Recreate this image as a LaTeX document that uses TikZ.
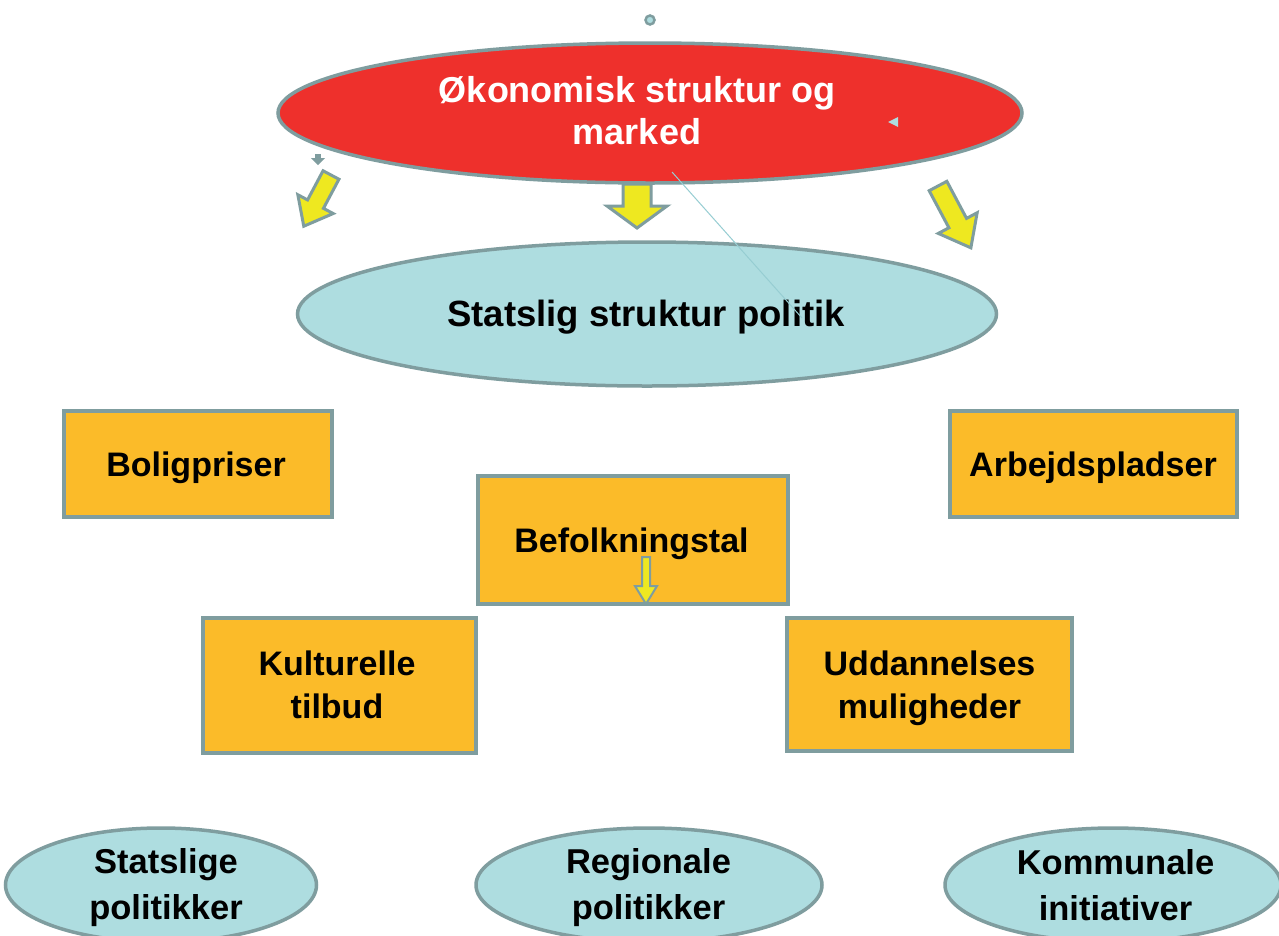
\documentclass[tikz,border=0pt]{standalone}
\usepackage{fontspec}
\setmainfont{Liberation Sans}
\usetikzlibrary{shapes.geometric}
\definecolor{redfill}{RGB}{238,48,44}
\definecolor{bluefill}{RGB}{174,221,224}
\definecolor{orangefill}{RGB}{251,187,41}
\definecolor{grayline}{RGB}{127,157,159}
\definecolor{yellowfill}{RGB}{238,232,32}
\definecolor{thinblue}{RGB}{150,205,210}
\tikzset{
  ellbox/.style={ellipse, draw=grayline, line width=3.5pt, inner sep=0pt},
  rectbox/.style={rectangle, draw=grayline, fill=orangefill, line width=4pt, inner sep=0pt},
  boxtext/.style={inner sep=0pt, align=center, font=\bfseries\fontsize{34}{43}\selectfont},
  elltext/.style={inner sep=0pt, align=center, font=\bfseries\fontsize{34.5}{46}\selectfont},
  arrowstyle/.style={draw=grayline, fill=yellowfill, line width=3pt, line join=miter},
  pics/blockarrow/.style n args={4}{code={
    \draw[arrowstyle] (-#2,0) -- (#2,0) -- (#2,#1-#4) -- (#3,#1-#4) -- (0,#1)
      -- (-#3,#1-#4) -- (-#2,#1-#4) -- cycle;}},
}
\begin{document}
\begin{tikzpicture}[x=1pt,y=-1pt]
\useasboundingbox (0,0) rectangle (1279,935);
\fill[white] (0,0) rectangle (1279,935);

% top small circle
\draw[grayline, line width=2.5pt, fill=bluefill] (650,20) circle (4.5);

% ellipses
\node[ellbox, fill=redfill, minimum width=744pt, minimum height=140pt] (oek) at (650,113) {};
\node[inner sep=0pt, align=center, text=white, font=\bfseries\fontsize{36}{42}\selectfont]
  (oektxt) at (637,111) {Økonomisk struktur og\\marked};
\node[ellbox, fill=bluefill, minimum width=699pt, minimum height=144pt] (stat) at (647,314) {};
\node[inner sep=0pt, font=\bfseries\fontsize{36.5}{42}\selectfont] (stattxt) at (646,317) {Statslig struktur politik};

% small marks on the red ellipse
\fill[bluefill] (888,122) -- (898,117) -- (898,127) -- cycle;
\fill[grayline] (315,154) rectangle (321,159);
\fill[grayline] (311,158) -- (325,158) -- (318,165) -- cycle;

% block arrows
\coordinate (aL) at (331,175);
\coordinate (aM) at (637,184);
\coordinate (aR) at (938,186);
\pic[rotate=-28] at (aL) {blockarrow={58}{9}{20}{25}};
\pic at (aM) {blockarrow={44}{14}{30}{22}};
\pic[rotate=28] at (aR) {blockarrow={70}{10}{22}{28}};

% boxes
\node[rectbox, minimum width=268pt, minimum height=106pt] (bolig) at (197.5,463.5) {};
\node[boxtext] (boligtxt) at (196,467.5) {Boligpriser};
\node[rectbox, minimum width=287pt, minimum height=106pt] (arb) at (1093,463.5) {};
\node[boxtext] (arbtxt) at (1093,467.5) {Arbejdspladser};
\node[rectbox, minimum width=310pt, minimum height=128pt] (bef) at (632.5,539.5) {};
\node[boxtext] (beftxt) at (631.5,543.5) {Befolkningstal};
\node[rectbox, minimum width=273pt, minimum height=135pt] (kult) at (339,685) {};
\node[boxtext] (kulttxt) at (337,684.5) {Kulturelle\\tilbud};
\node[rectbox, minimum width=285pt, minimum height=133pt] (udd) at (929,684) {};
\node[boxtext] (uddtxt) at (929.5,688) {Uddannelses\\muligheder};

% small arrow inside Befolkningstal
\coordinate (aB) at (646,557);
\pic[arrowstyle/.append style={line width=2pt}] at (aB) {blockarrow={47}{4}{11}{18}};

% bottom ellipses
\node[ellbox, fill=bluefill, minimum width=311pt, minimum height=114pt] (sp) at (161,885) {};
\node[elltext] (sptxt) at (166,888) {Statslige\\politikker};
\node[ellbox, fill=bluefill, minimum width=346pt, minimum height=114pt] (rp) at (649,885) {};
\node[elltext] (rptxt) at (648.5,888) {Regionale\\politikker};
\node[ellbox, fill=bluefill, minimum width=336pt, minimum height=114pt] (ki) at (1113,885) {};
\node[elltext] (kitxt) at (1115.5,885.5) {Kommunale\\initiativer};

% thin line
\coordinate (lA) at (672,172);
\coordinate (lB) at (802,318);
\draw[thinblue, line width=1pt] (lA) -- (lB);
\end{tikzpicture}
\end{document}
